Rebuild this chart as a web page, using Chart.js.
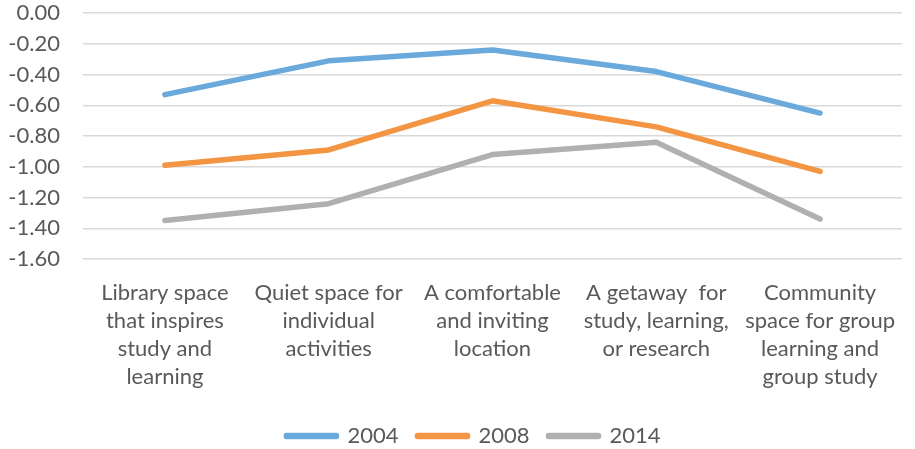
<!DOCTYPE html>
<html>
<head>
<meta charset="utf-8">
<script src="https://cdn.jsdelivr.net/npm/chart.js@4"></script>
<style>
  html, body { margin: 0; padding: 0; background: #fff; }
  #wrap { width: 915px; height: 449px; }
</style>
</head>
<body>
<div id="wrap"><canvas id="chartCanvas"></canvas></div>
<script>
// categories (split into lines like the original axis)
const categories = [
  ['Library space', 'that inspires', 'study and', 'learning'],
  ['Quiet space for', 'individual', 'activities'],
  ['A comfortable', 'and inviting', 'location'],
  ['A getaway  for', 'study, learning,', 'or research'],
  ['Community', 'space for group', 'learning and', 'group study']
];

// series values
const values2004 = [-0.53, -0.31, -0.24, -0.38, -0.65];
const values2008 = [-0.99, -0.89, -0.57, -0.74, -1.03];
const values2014 = [-1.35, -1.24, -0.92, -0.84, -1.34];

const seriesNames = ['2004', '2008', '2014'];
const seriesColors = ['#6aa9dc', '#f39543', '#b0b0b0'];

const yMin = -1.6;
const yMax = 0;
const yStep = 0.2;

const textColor = '#595959';
const fontFamily = 'Lato, "Open Sans", sans-serif';

function makeDataset(i, values) {
  return {
    label: seriesNames[i],
    data: values,
    borderColor: seriesColors[i],
    backgroundColor: seriesColors[i],
    borderWidth: 5.5,
    pointRadius: 0,
    tension: 0,
    borderCapStyle: 'round',
    borderJoinStyle: 'round'
  };
}

// the original legend sits a little right of the canvas centre
const legendShift = {
  id: 'legendShift',
  afterLayout(chart) {
    if (chart.legend) chart.legend.left += 32;
  }
};

const config = {
  type: 'line',
  data: {
    labels: categories,
    datasets: [
      makeDataset(0, values2004),
      makeDataset(1, values2008),
      makeDataset(2, values2014)
    ]
  },
  options: {
    responsive: true,
    maintainAspectRatio: false,
    animation: false,
    layout: { autoPadding: false, padding: { top: 12, right: 0, bottom: -8, left: 0 } },
    plugins: {
      tooltip: { enabled: false },
      legend: {
        position: 'bottom',
        labels: {
          boxWidth: 50,
          boxHeight: 1,
          padding: 19,
          color: textColor,
          font: { family: fontFamily, size: 22 }
        }
      }
    },
    scales: {
      x: {
        offset: true,
        grid: { display: false, drawTicks: false },
        border: { display: false },
        afterFit: function(scale) { scale.height = 147; },
        ticks: {
          color: textColor,
          font: { family: fontFamily, size: 22, lineHeight: 1.27 },
          maxRotation: 0,
          autoSkip: false,
          padding: 20
        }
      },
      y: {
        min: yMin,
        max: yMax,
        afterFit: function(scale) { scale.width = 83; },
        // invisible tick marks give the gap between labels and plot
        grid: { color: '#d9d9d9', lineWidth: 1.5, drawTicks: true, tickLength: 23, tickColor: 'rgba(0,0,0,0)' },
        border: { display: false },
        ticks: {
          stepSize: yStep,
          autoSkip: false,
          color: textColor,
          padding: 0,
          font: { family: fontFamily, size: 22 },
          callback: function(v) { return v.toFixed(2); }
        }
      }
    }
  },
  plugins: [legendShift]
};

new Chart(document.getElementById('chartCanvas'), config);
</script>
</body>
</html>
